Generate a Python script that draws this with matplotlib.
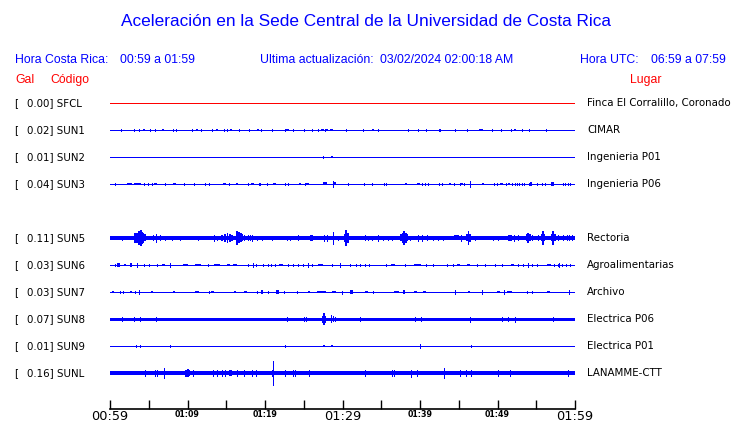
import matplotlib
matplotlib.use("Agg")
import matplotlib.pyplot as plt
import matplotlib.transforms as mtransforms

# ---------------- data ----------------
codes = ["SFCL", "SUN1", "SUN2", "SUN3", "SUN5", "SUN6", "SUN7", "SUN8", "SUN9", "SUNL"]
gal = [0.00, 0.02, 0.01, 0.04, 0.11, 0.03, 0.03, 0.07, 0.01, 0.16]
places = ["Finca El Corralillo, Coronado", "CIMAR", "Ingenieria P01", "Ingenieria P06",
          "Rectoria", "Agroalimentarias", "Archivo", "Electrica P06", "Electrica P01", "LANAMME-CTT"]
slots = [0, 1, 2, 3, 5, 6, 7, 8, 9, 10]          # SUN4 slot left empty
trace_colors = ["red"] + ["blue"] * 9
# thickness of the background trace (px)
band = [1, 1, 1, 1, 4, 1, 1, 3, 1, 4]

tick_minutes = [0, 5, 10, 15, 20, 25, 30, 35, 40, 45, 50, 55, 60]
tick_labels = ["00:59", "", "01:09", "", "01:19", "", "01:29", "", "01:39", "", "01:49", "", "01:59"]
big_labels = ["00:59", "01:29", "01:59"]

# events: (minute, half amplitude px[, duration minutes])
ev_SFCL = []
ev_SUN1 = [(1.4, 1.2), (3.1, 1.2), (3.7, 1.2), (4.4, 1.3, 0.3), (5.2, 1.2), (5.8, 1.2), (6.8, 1.3, 0.3),
           (8.1, 1.2), (8.5, 1.2), (10.6, 1.2), (11.2, 1.3, 0.3), (11.7, 1.0), (13.1, 1.2), (13.8, 1.3, 0.3),
           (14.7, 1.2), (15.1, 1.2), (15.6, 1.3, 0.3), (16.6, 1.2), (17.9, 1.0), (19.1, 1.3, 0.3),
           (19.5, 1.3), (20.9, 1.0), (22.6, 1.2), (22.9, 1.3, 0.3), (23.6, 1.0), (25.0, 1.3), (26.1, 1.0),
           (26.9, 1.2), (27.4, 1.3, 0.3), (27.7, 1.2), (28.0, 1.3, 0.25), (28.6, 1.3, 0.3), (30.4, 1.2),
           (32.7, 1.0), (33.9, 1.3, 0.3), (34.6, 1.2), (38.4, 1.2), (39.7, 1.0), (40.8, 1.2), (42.4, 1.2),
           (42.6, 1.2), (44.5, 1.0), (46.0, 1.0), (47.9, 1.3, 0.45), (49.3, 1.0), (50.5, 1.2), (51.7, 1.2),
           (52.3, 1.3, 0.3), (53.2, 1.2), (54.1, 1.0), (56.2, 1.0)]
ev_SUN2 = [(27.5, 1.0), (28.6, 1.2, 0.25)]
ev_SUN3 = [(0.7, 1.0), (2.3, 1.2, 0.3), (2.5, 1.2, 0.25), (2.7, 1.2, 0.25), (3.2, 1.2, 0.25), (3.45, 1.2, 0.25),
           (3.7, 1.2, 0.25), (3.9, 1.2, 0.25), (4.4, 1.0), (4.9, 1.2), (5.4, 1.0), (5.9, 1.2, 0.35),
           (7.1, 1.0), (8.3, 1.2, 0.35), (9.6, 1.0), (10.9, 1.0), (12.3, 1.0), (12.8, 1.0), (14.8, 1.2, 0.35),
           (15.4, 1.2), (16.4, 1.2, 0.3), (17.8, 1.0), (18.4, 1.2, 0.3), (19.2, 1.2), (19.4, 1.0), (20.3, 1.0),
           (21.2, 1.2, 0.35), (22.6, 1.2), (23.0, 1.2), (24.5, 1.2, 0.3), (25.1, 1.0), (25.5, 1.2, 0.45),
           (27.7, 1.5, 0.5), (28.8, 2.7), (29.0, 1.5, 0.35), (30.7, 1.0), (32.8, 1.0), (33.8, 1.0),
           (35.3, 1.0), (35.6, 1.0), (38.2, 1.2, 0.3), (39.8, 1.3, 0.35), (40.2, 1.2), (40.6, 1.2), (41.0, 1.0),
           (42.4, 1.0), (42.8, 1.0), (43.9, 1.2, 0.3), (44.4, 1.0), (45.1, 1.2), (45.4, 1.2, 0.3), (45.7, 1.2),
           (46.45, 2.7), (48.1, 1.2, 0.3), (49.6, 1.0), (49.9, 1.0), (50.5, 1.2, 0.3), (51.1, 1.2),
           (51.5, 1.2, 0.3), (51.9, 1.2), (52.2, 1.2), (52.5, 1.2), (52.8, 1.2), (53.1, 1.2), (53.4, 1.0),
           (54.0, 1.0), (54.3, 1.7, 0.2), (55.1, 1.0), (55.7, 1.0), (56.1, 1.0), (57.1, 1.7, 0.35),
           (58.4, 1.2), (58.7, 1.2), (59.05, 1.2), (59.4, 1.2)]
ev_SUN5 = [(1.5, 2.2), (3.23, 5.0, 0.22), (3.44, 5.0, 0.22), (3.66, 6.7, 0.22), (3.83, 7.0, 0.22),
           (4.0, 8.3, 0.22), (4.17, 6.0, 0.22), (4.34, 5.0, 0.22), (4.52, 3.5, 0.22), (5.5, 2.5), (5.94, 4.3),
           (6.45, 2.5), (7.1, 2.2), (7.96, 2.2), (9.03, 2.3), (11.4, 2.2),
           (13.46, 3.0), (13.76, 2.2), (14.49, 3.0, 0.22), (14.84, 4.0, 0.22), (15.18, 5.0, 0.22),
           (15.48, 4.0, 0.22), (15.78, 3.0, 0.22),
           (16.43, 6.7, 0.22), (16.65, 5.5, 0.22), (16.86, 4.5, 0.22), (17.08, 3.5, 0.22), (17.33, 2.5),
           (17.76, 2.5), (18.06, 2.5),
           (18.37, 2.8), (18.92, 2.2), (19.57, 2.2), (20.86, 2.2), (22.8, 2.3), (23.23, 2.3), (24.22, 2.5),
           (26.02, 2.6, 0.3), (27.66, 3.0), (27.96, 2.7), (28.73, 6.0), (29.46, 2.2), (30.24, 4.0, 0.22),
           (30.45, 8.3, 0.22), (30.67, 5.0, 0.22), (32.9, 2.5), (33.33, 2.3), (33.76, 2.2), (34.54, 3.0),
           (35.27, 2.2), (35.83, 2.2), (36.34, 2.2), (37.55, 3.5, 0.22), (37.76, 5.0, 0.22),
           (37.94, 6.7, 0.22), (38.15, 5.0, 0.22), (38.37, 3.5, 0.22),
           (38.71, 2.2), (39.7, 2.7), (40.22, 3.0), (40.86, 2.5), (41.72, 2.2), (42.37, 2.2), (43.01, 2.2),
           (44.73, 2.5, 0.6), (45.29, 2.7), (46.02, 3.5, 0.22), (46.24, 7.3, 0.22), (46.45, 4.0, 0.22),
           (47.1, 2.3), (48.09, 2.2, 0.4), (49.46, 2.2), (50.11, 2.2), (51.61, 2.7, 0.4), (52.17, 3.0),
           (52.69, 2.5), (53.76, 3.5, 0.22), (53.94, 4.7, 0.22), (54.19, 3.5, 0.22), (54.49, 2.5),
           (55.27, 2.5), (55.7, 3.5, 0.22), (55.87, 7.3, 0.22), (56.04, 3.5, 0.22), (56.99, 3.5, 0.22),
           (57.16, 6.7, 0.22), (57.38, 3.5, 0.22), (57.85, 2.5), (58.49, 2.5), (58.92, 2.5),
           (59.23, 2.5), (59.66, 2.5)]
ev_SUN6 = [(0.65, 1.2), (1.12, 2.0, 0.35), (1.94, 1.3, 0.3), (2.67, 2.0, 0.3), (3.44, 1.7), (4.43, 1.2),
           (5.03, 1.2), (6.02, 1.2), (6.92, 1.3, 0.35), (7.74, 1.9), (9.76, 1.3, 0.6), (11.31, 1.3, 0.8),
           (12.69, 1.2), (13.81, 1.3, 0.7), (15.27, 1.3, 0.45), (16.17, 1.3, 0.5), (17.76, 1.2), (18.41, 1.8),
           (18.84, 1.2), (19.78, 1.2), (20.43, 1.2), (20.73, 1.2), (21.29, 1.2), (22.06, 1.3, 0.5),
           (22.92, 1.2), (23.57, 1.2), (24.22, 1.2), (24.95, 1.2), (25.51, 1.8), (26.11, 1.2),
           (27.18, 1.3, 0.6), (28.6, 1.2), (29.68, 2.0), (30.97, 1.2), (31.7, 1.2), (32.26, 1.2), (32.9, 1.2),
           (33.42, 1.2), (35.61, 1.2), (36.52, 1.3, 0.5), (38.06, 1.2), (39.66, 1.3, 0.9), (40.73, 1.2),
           (41.63, 1.2), (43.44, 1.2), (44.3, 1.2), (44.95, 1.3, 0.3), (46.24, 1.3, 0.4), (47.31, 1.2),
           (48.39, 1.2), (49.68, 1.0), (50.54, 1.2), (51.91, 1.3, 0.4), (52.69, 1.2), (53.33, 1.2),
           (53.89, 2.0), (54.41, 1.2), (55.05, 1.2), (56.65, 1.3, 0.6), (57.33, 1.2), (57.76, 1.2),
           (57.98, 1.8), (58.37, 1.2), (58.8, 1.2), (59.35, 1.2)]
ev_SUN7 = [(0.43, 1.3, 0.3), (1.29, 1.2), (1.72, 1.2), (2.71, 1.3, 0.3), (3.23, 1.2), (3.78, 1.8),
           (5.38, 1.3, 0.3), (8.3, 1.3, 0.3), (11.18, 1.3, 0.5), (12.77, 1.2), (13.25, 1.3, 0.4),
           (16.13, 1.3, 0.3), (17.51, 1.3, 0.4), (18.92, 1.2), (19.57, 1.8, 0.3), (20.43, 1.2),
           (21.63, 1.8, 0.3), (22.49, 1.2), (24.09, 1.2), (25.68, 1.3, 0.3), (27.31, 1.3, 1.2),
           (28.95, 1.3, 0.5), (29.89, 1.5), (31.18, 1.8, 0.4), (33.12, 1.3, 0.4), (33.98, 1.2),
           (36.99, 1.3, 0.6), (37.94, 1.8, 0.3), (39.44, 1.3, 0.3), (40.56, 1.3, 0.3), (44.52, 1.7),
           (46.32, 1.3, 0.3), (47.96, 1.7), (50.11, 1.3, 0.4), (50.84, 2.0), (51.53, 1.3, 0.6), (53.76, 1.0),
           (54.41, 1.0), (56.56, 1.3, 0.3), (59.27, 2.3)]
ev_SUN8 = [(1.51, 1.8), (3.14, 2.0), (3.87, 2.0), (5.94, 2.2), (22.88, 2.0), (25.08, 2.2), (25.33, 2.2),
           (27.44, 3.5, 0.2), (27.61, 5.7, 0.2), (27.78, 3.5, 0.2), (28.6, 4.0, 0.2), (28.82, 3.0, 0.2),
           (29.03, 2.3), (32.26, 2.0),
           (39.35, 2.0), (40.13, 2.3), (46.45, 2.5), (50.54, 2.0), (51.4, 2.2), (52.26, 2.5), (57.12, 2.0)]
ev_SUN9 = [(3.35, 1.0), (3.87, 1.0), (7.74, 1.0), (22.62, 1.2), (27.61, 1.3, 0.25), (28.6, 1.3, 0.25),
           (40.0, 1.7), (46.54, 1.0)]
ev_SUNL = [(4.52, 2.8), (5.81, 2.8), (6.02, 2.8), (6.92, 5.3), (9.81, 3.5, 0.22), (10.02, 4.0, 0.22),
           (10.24, 3.3, 0.22),
           (10.75, 2.7), (13.33, 2.7), (13.76, 2.7), (14.41, 2.7), (14.84, 2.7), (15.57, 2.7, 0.4),
           (16.34, 2.7), (17.33, 2.7), (18.28, 2.7), (18.8, 2.7), (21.08, 11.7), (21.0, 3.5, 0.3),
           (22.58, 2.7), (23.57, 2.7), (23.87, 2.7), (25.68, 3.0), (32.9, 3.0), (36.43, 2.7), (36.69, 2.7),
           (38.84, 3.5), (39.66, 2.7), (43.1, 5.0), (45.16, 2.7), (45.89, 2.7), (46.54, 2.7), (50.11, 2.7),
           (51.57, 2.7), (59.05, 2.7)]
events = [ev_SFCL, ev_SUN1, ev_SUN2, ev_SUN3, ev_SUN5, ev_SUN6, ev_SUN7, ev_SUN8, ev_SUN9, ev_SUNL]

# ---------------- figure ----------------
W, H = 740, 423
DPI = 100
PX = 72.0 / DPI          # one pixel in points
fig = plt.figure(figsize=(W / DPI, H / DPI), dpi=DPI)
fig.patch.set_facecolor("white")

def fx(px):
    return px / W

def fy(py):
    return 1 - py / H

ROW = 27.0
ax = fig.add_axes([fx(110), fy(409), fx(575) - fx(110), fy(90) - fy(409)])
ax.set_xlim(0, 60)
ax.set_ylim(306, -13)

for slot, col, b, evs in zip(slots, trace_colors, band, events):
    yc = slot * ROW
    ax.hlines(yc, 0, 60, colors=col, linewidth=b * PX, antialiased=False, capstyle="butt")
    spikes = [e for e in evs if len(e) == 2]
    blobs = [e for e in evs if len(e) > 2]
    if spikes:
        ax.vlines([e[0] for e in spikes], [yc - e[1] for e in spikes], [yc + e[1] for e in spikes],
                  colors=col, linewidth=1.0 * PX, antialiased=False)
    if blobs:
        ax.bar([e[0] for e in blobs], [2 * e[1] for e in blobs], bottom=[yc - e[1] for e in blobs],
               width=[e[2] for e in blobs], color=col, linewidth=0, antialiased=False)

for s in ["top", "left", "right"]:
    ax.spines[s].set_visible(False)
ax.spines["bottom"].set_linewidth(1.2)
ax.set_yticks([])
ax.set_xticks(tick_minutes)
ax.set_xticklabels(tick_labels)
ax.tick_params(axis="x", direction="in", length=6.5, width=1.0, pad=1.0, colors="black")
for lab in ax.get_xticklabels():
    lab.set_fontfamily("DejaVu Sans")
    if lab.get_text() in big_labels:
        lab.set_fontsize(9.3)
    else:
        lab.set_fontsize(5.7)
        lab.set_fontweight("bold")
ax.set_facecolor("none")

# station labels
SF = 7.4
tr = mtransforms.blended_transform_factory(fig.transFigure, ax.transData)
for slot, g, c, p in zip(slots, gal, codes, places):
    yc = slot * ROW
    ax.text(fx(14), yc, "[", transform=tr, fontsize=SF, va="center", ha="left", family="DejaVu Sans")
    ax.text(fx(27), yc, f"{g:.2f}] {c}", transform=tr, fontsize=SF, va="center", ha="left",
            family="DejaVu Sans")
    ax.text(fx(587), yc, p, transform=tr, fontsize=SF, va="center", ha="left", family="DejaVu Sans")

# header
hf = "Liberation Sans"
HS = 8.8
fig.text(fx(366), fy(22), "Aceleración en la Sede Central de la Universidad de Costa Rica",
         color="blue", fontsize=12.4, ha="center", va="center", family=hf)
fig.text(fx(15), fy(60), "Hora Costa Rica:", color="blue", fontsize=HS, va="center", family=hf)
fig.text(fx(120), fy(60), "00:59 a 01:59", color="blue", fontsize=HS, va="center", family=hf)
fig.text(fx(260), fy(60), "Ultima actualización:", color="blue", fontsize=HS, va="center", family=hf)
fig.text(fx(380), fy(60), "03/02/2024 02:00:18 AM", color="blue", fontsize=HS, va="center", family=hf)
fig.text(fx(580), fy(60), "Hora UTC:", color="blue", fontsize=HS, va="center", family=hf)
fig.text(fx(651), fy(60), "06:59 a 07:59", color="blue", fontsize=HS, va="center", family=hf)
fig.text(fx(15), fy(80), "Gal", color="red", fontsize=HS, va="center", family=hf)
fig.text(fx(50), fy(80), "Código", color="red", fontsize=HS, va="center", family=hf)
fig.text(fx(630), fy(80), "Lugar", color="red", fontsize=HS, va="center", family=hf)

fig.savefig("out.png", dpi=DPI, facecolor="white")
